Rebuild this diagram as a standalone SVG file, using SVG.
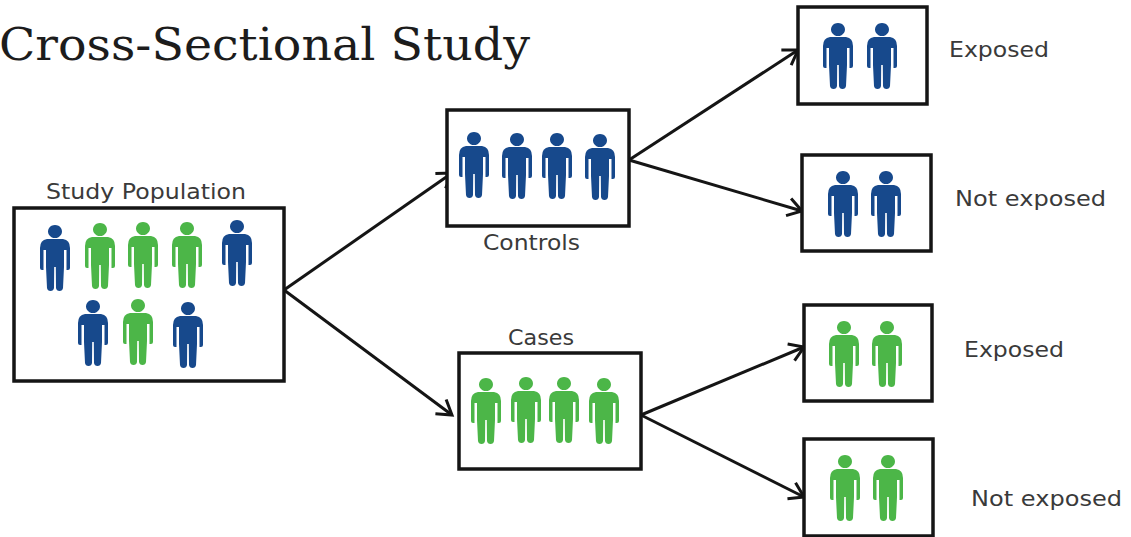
<svg xmlns="http://www.w3.org/2000/svg" width="1131" height="537" viewBox="0 0 1131 537">
<style>
.box{fill:#fff;stroke:#151515;stroke-width:3.5}
.blue{fill:#17498c}
.green{fill:#4cb648}
.lbl{font-family:"DejaVu Sans","Open Sans",sans-serif;font-size:21px;fill:#3a3a3a}
.title{font-family:"DejaVu Serif","Liberation Serif",serif;font-size:45px;fill:#1c1c1c}
.conn{fill:none;stroke:#151515;stroke-width:3;marker-end:url(#arrow)}
</style>
<defs>
<marker id="arrow" markerUnits="userSpaceOnUse" markerWidth="24" markerHeight="24" refX="20" refY="12" orient="auto">
<path d="M6 3L20 12L6 21" fill="none" stroke="#151515" stroke-width="3"/>
</marker>
<path id="person" d="M0 0a7 6.500 0 1 1 -.01 0zM-8 14H8Q15 15 15 23V43Q15 45 13 45H11.500V25H9V42L8 63Q7.500 66 4.500 66Q1.500 66 1 63L.8 42H-.8L-1 63Q-1.500 66 -4.500 66Q-7.500 66 -8 63L-9 42V25H-11.500V45H-13Q-15 45 -15 43V23Q-15 15 -8 14Z"/>
</defs>
<rect width="1131" height="537" fill="#fff"/>
<text class="title" x="-1" y="60" textLength="531" lengthAdjust="spacingAndGlyphs">Cross-Sectional Study</text>
<g id="connectors">
<path class="conn" d="M284 290L452 173"/>
<path class="conn" d="M284 290L452 415"/>
<path class="conn" d="M629 160L798 50"/>
<path class="conn" d="M629 160L802 211"/>
<path class="conn" d="M641 415L804 347"/>
<path class="conn" d="M641 415L804 497"/>
</g>
<g id="study-population">
<rect class="box" x="14" y="208" width="270" height="173"/>
<text class="lbl" x="46" y="199" textLength="200" lengthAdjust="spacingAndGlyphs">Study Population</text>
<use href="#person" class="blue" x="55" y="225"/>
<use href="#person" class="green" x="100" y="223"/>
<use href="#person" class="green" x="143" y="222"/>
<use href="#person" class="green" x="187" y="222"/>
<use href="#person" class="blue" x="237" y="220"/>
<use href="#person" class="blue" x="93" y="300"/>
<use href="#person" class="green" x="138" y="299"/>
<use href="#person" class="blue" x="188" y="302"/>
</g>
<g id="controls">
<rect class="box" x="447" y="110" width="182" height="116"/>
<text class="lbl" x="483" y="250" textLength="97" lengthAdjust="spacingAndGlyphs">Controls</text>
<use href="#person" class="blue" x="474" y="132"/>
<use href="#person" class="blue" x="517" y="133"/>
<use href="#person" class="blue" x="557" y="133"/>
<use href="#person" class="blue" x="600" y="134"/>
</g>
<g id="cases">
<rect class="box" x="459" y="353" width="182" height="116"/>
<text class="lbl" x="508" y="345" textLength="66" lengthAdjust="spacingAndGlyphs">Cases</text>
<use href="#person" class="green" x="486" y="378"/>
<use href="#person" class="green" x="526" y="377"/>
<use href="#person" class="green" x="564" y="377"/>
<use href="#person" class="green" x="604" y="378"/>
</g>
<g id="controls-exposed">
<rect class="box" x="798" y="7" width="129" height="97"/>
<text class="lbl" x="949" y="57" textLength="100" lengthAdjust="spacingAndGlyphs">Exposed</text>
<use href="#person" class="blue" x="838" y="23"/>
<use href="#person" class="blue" x="882" y="23"/>
</g>
<g id="controls-not-exposed">
<rect class="box" x="802" y="155" width="129" height="96"/>
<text class="lbl" x="955" y="206" textLength="151" lengthAdjust="spacingAndGlyphs">Not exposed</text>
<use href="#person" class="blue" x="843" y="171"/>
<use href="#person" class="blue" x="886" y="171"/>
</g>
<g id="cases-exposed">
<rect class="box" x="804" y="305" width="128" height="96"/>
<text class="lbl" x="964" y="357" textLength="100" lengthAdjust="spacingAndGlyphs">Exposed</text>
<use href="#person" class="green" x="844" y="321"/>
<use href="#person" class="green" x="887" y="321"/>
</g>
<g id="cases-not-exposed">
<rect class="box" x="804" y="439" width="129" height="97"/>
<text class="lbl" x="971" y="506" textLength="151" lengthAdjust="spacingAndGlyphs">Not exposed</text>
<use href="#person" class="green" x="845" y="455"/>
<use href="#person" class="green" x="888" y="455"/>
</g>
</svg>
